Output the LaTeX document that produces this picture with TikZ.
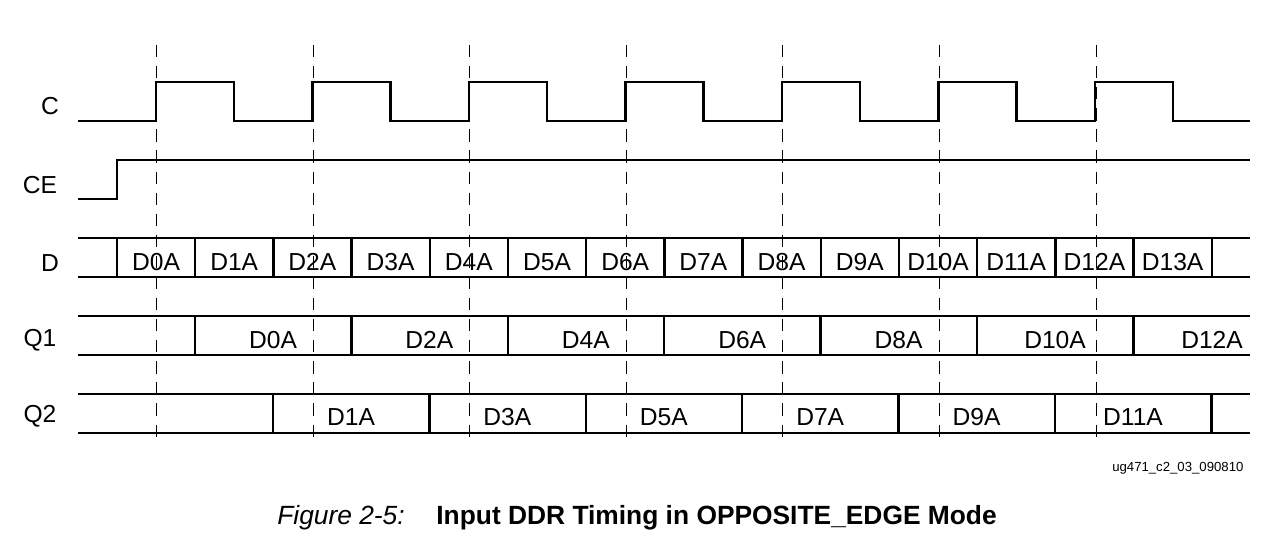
\documentclass[tikz,border=0pt]{standalone}
\usepackage{fontspec}
\setmainfont{Liberation Sans}
\begin{document}
\begin{tikzpicture}[x=0.02cm,y=-0.02cm,thick,
  wave/.style={line width=1.4pt},
  grid line/.style={dashed,thin,dash pattern=on 7pt off 5pt},
  sig label/.style={font=\fontsize{14}{16}\selectfont},
  bus label/.style={font=\fontsize{14}{16}\selectfont}]
  \useasboundingbox (0,0) rectangle (1287,541);
  % dashed grid
  \foreach \x in {156,313,469,626,782,939,1096}
    \draw[grid line] (\x,45) -- (\x,445);
  % signal names
  \node[sig label] (c)  at (50,106) {C};
  \node[sig label] (ce) at (40,185) {CE};
  \node[sig label] (d)  at (50,263) {D};
  \node[sig label] (q1) at (40,340) {Q1};
  \node[sig label] (q2) at (40,416) {Q2};
  % clock
  \draw[wave] (78,121)
    \foreach \i in {0,...,6} {
      -- ({156+156.5*\i},121) -- ({156+156.5*\i},82)
      -- ({234+156.5*\i},82) -- ({234+156.5*\i},121) }
    -- (1250,121);
  % clock enable
  \draw[wave] (78,199) -- (117,199) -- (117,160) -- (1250,160);
  % D bus
  \draw[wave] (78,238) -- (1250,238) (78,277) -- (1250,277);
  \foreach \i in {0,...,14}
    \draw[wave] ({117+78.2*\i},238) -- ({117+78.2*\i},277);
  \foreach \i in {0,...,13}
    \node[bus label] (d\i) at ({156+78.2*\i},262) {D\i A};
  % Q1 bus
  \draw[wave] (78,316) -- (1250,316) (78,355) -- (1250,355);
  \foreach \i in {0,...,6}
    \draw[wave] ({195+156.4*\i},316) -- ({195+156.4*\i},355);
  \foreach \i/\n in {0/0,1/2,2/4,3/6,4/8,5/10}
    \node[bus label] (qa\i) at ({273+156.4*\i},340) {D\n A};
  \node[bus label] (qa6) at (1212,340) {D12A};
  % Q2 bus
  \draw[wave] (78,394) -- (1250,394) (78,433) -- (1250,433);
  \foreach \i in {0,...,6}
    \draw[wave] ({273+156.4*\i},394) -- ({273+156.4*\i},433);
  \foreach \i/\n in {0/1,1/3,2/5,3/7,4/9,5/11}
    \node[bus label] (qb\i) at ({351+156.4*\i},417) {D\n A};
  % footer and caption
  \node[font=\fontsize{7.5}{9}\selectfont,anchor=east] (tag) at (1250,468) {ug471\_c2\_03\_090810};
  \node[font=\fontsize{15}{18}\selectfont] (cap) at (637,518)
    {\textit{Figure 2-5:}\hspace{1.2em}\textbf{Input DDR Timing in OPPOSITE\_EDGE Mode}};
\end{tikzpicture}
\end{document}
